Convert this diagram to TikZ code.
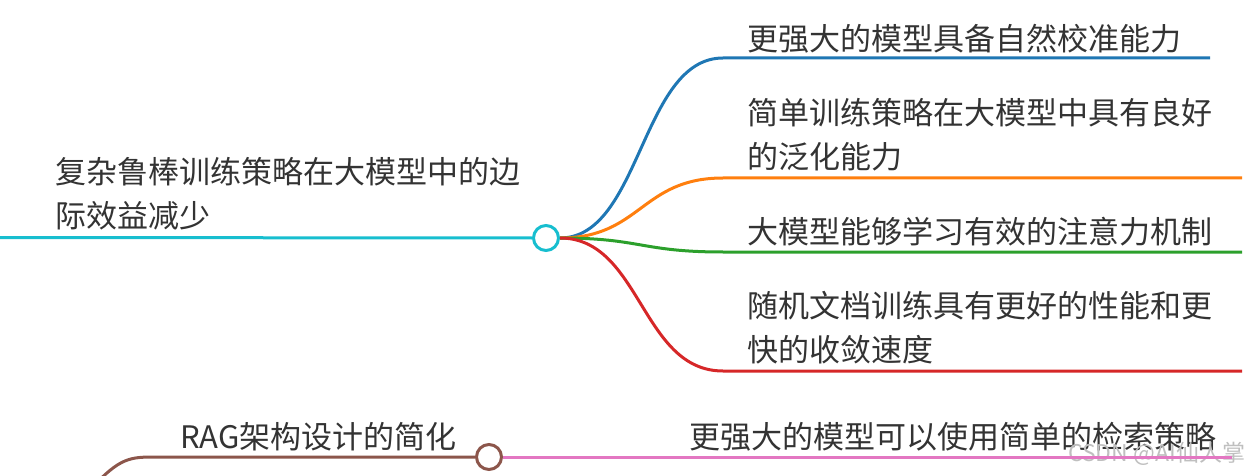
\documentclass[tikz,border=0pt]{standalone}
\usepackage{fontspec}
\setmainfont{Noto Sans CJK SC}
\definecolor{mmcyan}{HTML}{17BECF}
\definecolor{mmblue}{HTML}{1F77B4}
\definecolor{mmorange}{HTML}{FF7F0E}
\definecolor{mmgreen}{HTML}{2CA02C}
\definecolor{mmred}{HTML}{D62728}
\definecolor{mmbrown}{HTML}{8C564B}
\definecolor{mmpink}{HTML}{E377C2}
\definecolor{mmtext}{HTML}{333333}
\begin{document}
\begin{tikzpicture}[x=1pt,y=-1pt,
  branch/.style={line width=3pt},
  hubdot/.style={draw,circle,line width=3pt,fill=white,minimum size=25pt,inner sep=0pt},
  leaf/.style={anchor=west,inner sep=0pt,align=left,text=mmtext,font=\fontsize{31}{44}\selectfont}]
  \useasboundingbox (0,0) rectangle (1259,476);
  % hubs
  \node (hub) at (546,238) [hubdot,draw=mmcyan] {};
  \node (ragdot) at (489,457) [hubdot,draw=mmbrown] {};
  % free ends
  \coordinate (rootin) at (-5,237.5);
  \coordinate (ragin) at (90,490);
  \coordinate (endA) at (1210,58);
  \coordinate (endB) at (1242,178);
  \coordinate (endC) at (1242,252);
  \coordinate (endD) at (1242,371);
  \coordinate (endE) at (1232,457);
  % labels
  \node (topic) at (55,194) [leaf] {复杂鲁棒训练策略在大模型中的边\\际效益减少};
  \node (leafA) at (747,38.5) [leaf] {更强大的模型具备自然校准能力};
  \node (leafB) at (747,135) [leaf] {简单训练策略在大模型中具有良好\\的泛化能力};
  \node (leafC) at (747,232) [leaf] {大模型能够学习有效的注意力机制};
  \node (leafD) at (747,327.5) [leaf] {随机文档训练具有更好的性能和更\\快的收敛速度};
  \node (rag) at (180,437) [leaf] {RAG架构设计的简化};
  \node (leafE) at (689,437) [leaf] {更强大的模型可以使用简单的检索策略};
  \node (mark) at (1068,454) [anchor=west,inner sep=0pt,text=gray!50,font=\fontsize{23}{26}\selectfont] {CSDN @AI仙人掌};
  % connectors
  \draw [branch,mmcyan] (rootin) -- (hub.west);
  \draw [branch,mmblue] (hub.east) .. controls (641,238) and (641,58) .. (723,58) -- (endA);
  \draw [branch,mmorange] (hub.east) .. controls (641,238) and (641,178) .. (723,178) -- (endB);
  \draw [branch,mmgreen] (hub.east) .. controls (641,238) and (641,252) .. (723,252) -- (endC);
  \draw [branch,mmred] (hub.east) .. controls (641,238) and (641,371) .. (723,371) -- (endD);
  \draw [branch,mmbrown] (ragin) .. controls (120,457) and (130,457) .. (157,457) -- (ragdot.west);
  \draw [branch,mmpink] (ragdot.east) -- (endE);
\end{tikzpicture}
\end{document}
